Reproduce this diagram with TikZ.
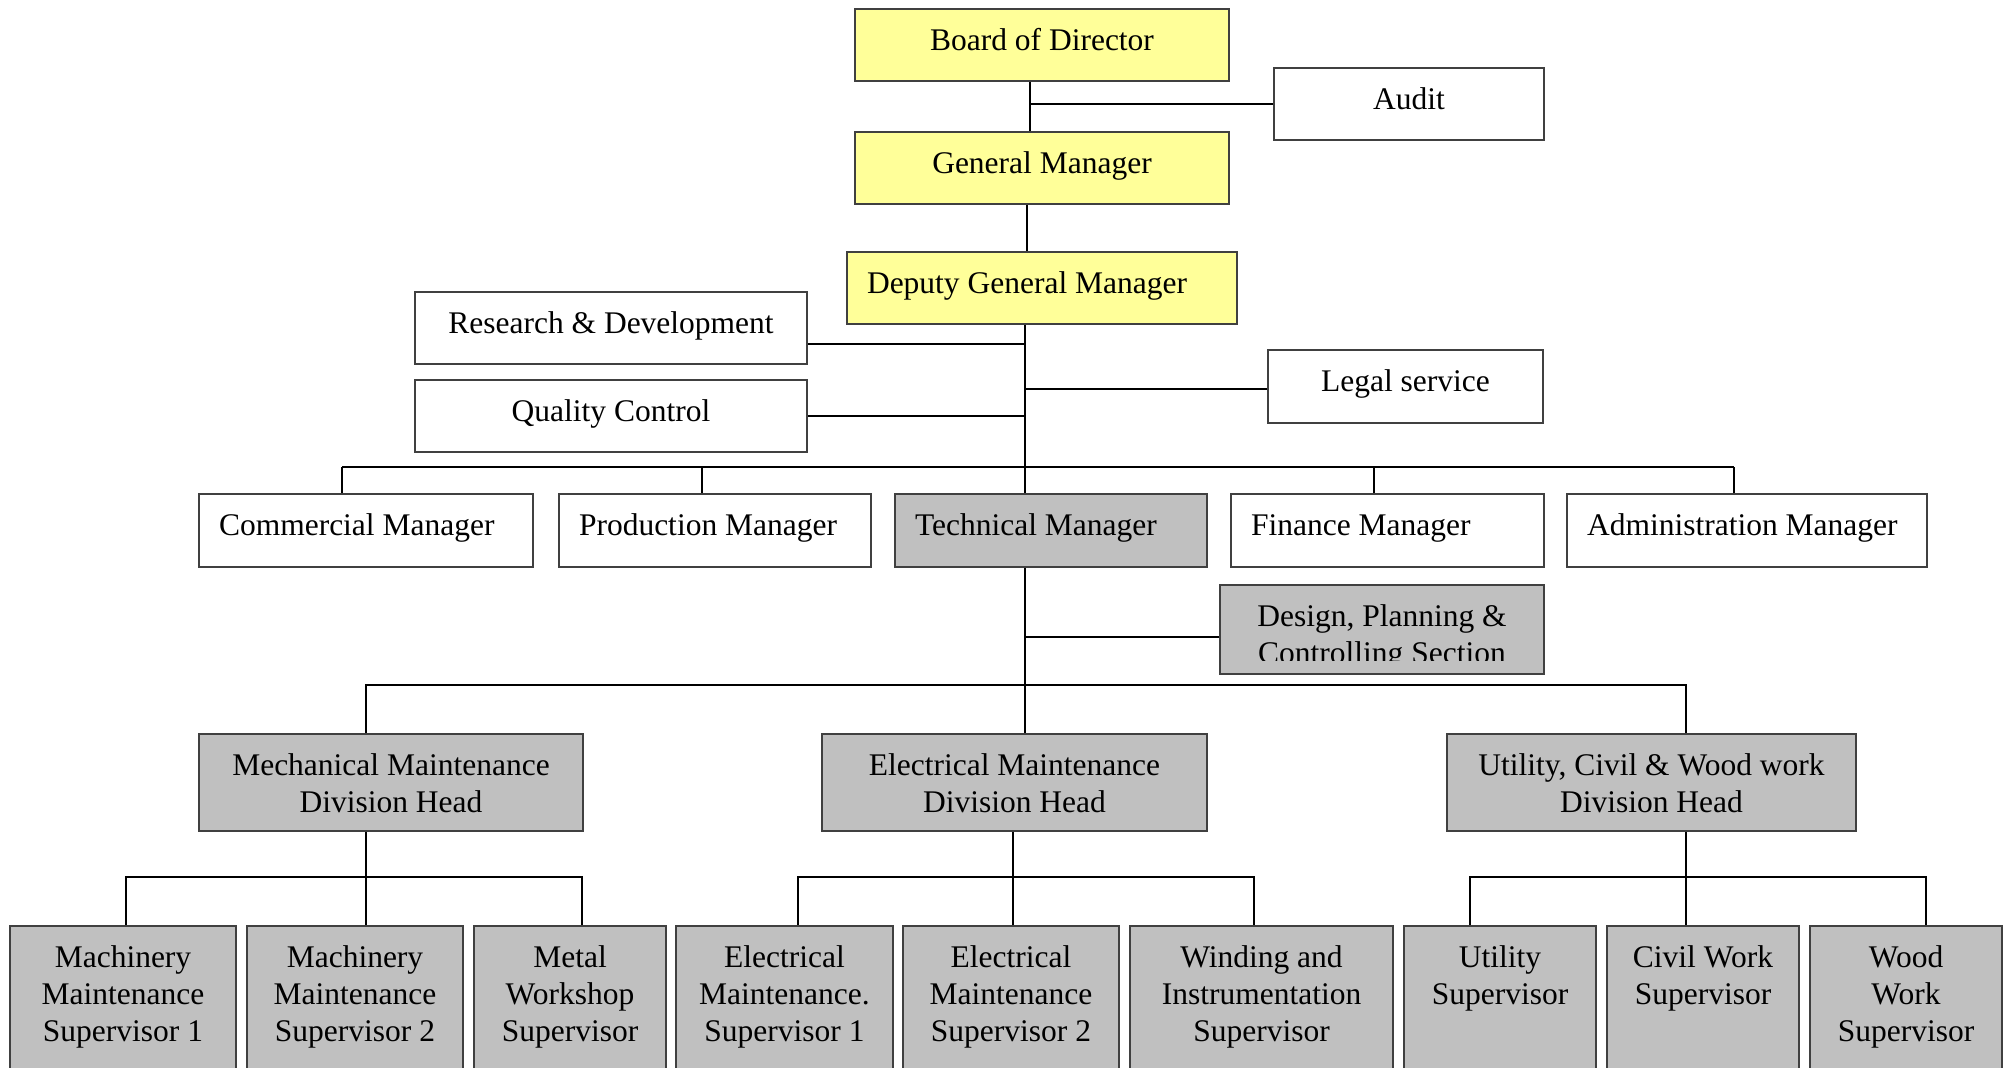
\documentclass[tikz,border=0pt]{standalone}
\usepackage{fontspec}
\setmainfont{Liberation Serif}
\usetikzlibrary{calc}

\definecolor{boardyellow}{HTML}{FFFF99}
\definecolor{techgray}{HTML}{C0C0C0}
\definecolor{boxline}{HTML}{404040}

\newcommand\orgfont{\fontsize{15.75pt}{18.5pt}\selectfont}
% box content: width and height in drawing units (px), first baseline 21pt below the top
\newcommand\cellc[3]{\parbox[t][\dimexpr#2pt/2\relax][t]{\dimexpr#1pt/2\relax}{\centering\rule{0pt}{21pt}#3}}
\newcommand\celll[3]{\parbox[t][\dimexpr#2pt/2\relax][t]{\dimexpr#1pt/2\relax}{\raggedright\rule{0pt}{21pt}\hspace*{10pt}\mbox{#3}}}

\tikzset{
  orgbox/.style={draw=boxline, line width=1pt, inner sep=0pt, anchor=north west, font=\orgfont},
  ybox/.style={orgbox, fill=boardyellow},
  wbox/.style={orgbox, fill=white},
  gbox/.style={orgbox, fill=techgray},
  link/.style={line width=1pt, black},
  buslink/.style={line width=1.3pt, black},
}

\begin{document}
\begin{tikzpicture}[x=0.5pt, y=-0.5pt]
\useasboundingbox (0,0) rectangle (2004,1068);
\clip (0,0) rectangle (2004,1068);
\fill[white] (0,0) rectangle (2004,1068);

% ---- top management
\node[ybox] (bod)   at (854,8)    {\cellc{374}{72}{Board of Director}};
\node[wbox] (audit) at (1273,67)  {\cellc{270}{72}{Audit}};
\node[ybox] (gm)    at (854,131)  {\cellc{374}{72}{General Manager}};
\node[ybox] (dgm)   at (846,251)  {\celll{390}{72}{Deputy General Manager}};

% ---- staff functions
\node[wbox] (rd)    at (414,291)  {\cellc{392}{72}{Research \& Development}};
\node[wbox] (qc)    at (414,379)  {\cellc{392}{72}{Quality Control}};
\node[wbox] (legal) at (1267,349) {\cellc{275}{73}{Legal service}};

% ---- managers
\node[wbox] (com)  at (198,493)  {\celll{334}{73}{Commercial Manager}};
\node[wbox] (prod) at (558,493)  {\celll{312}{73}{Production Manager}};
\node[gbox] (tm)   at (894,493)  {\celll{312}{73}{Technical Manager}};
\node[wbox] (fin)  at (1230,493) {\celll{313}{73}{Finance Manager}};
\node[wbox] (adm)  at (1566,493) {\celll{360}{73}{Administration Manager}};

% ---- design section (text cut by the box)
\node[gbox] (design) at (1219,584) {\cellc{324}{89}{}};
\begin{scope}
  \clip (1219,584) rectangle (1543,661);
  \node[orgbox, draw=none] (design-text) at (1219,584)
    {\cellc{324}{89}{Design, Planning \&\\Controlling Section}};
\end{scope}

% ---- division heads
\node[gbox] (mech) at (198,733)  {\cellc{384}{97}{Mechanical Maintenance\\Division Head}};
\node[gbox] (elec) at (821,733)  {\cellc{385}{97}{Electrical Maintenance\\Division Head}};
\node[gbox] (util) at (1446,733) {\cellc{409}{97}{Utility, Civil \& Wood work\\Division Head}};

% ---- supervisors
\node[gbox] (s1) at (9,925)    {\cellc{226}{160}{Machinery\\Maintenance\\Supervisor 1}};
\node[gbox] (s2) at (246,925)  {\cellc{216}{160}{Machinery\\Maintenance\\Supervisor 2}};
\node[gbox] (s3) at (473,925)  {\cellc{192}{160}{Metal\\Workshop\\Supervisor}};
\node[gbox] (s4) at (675,925)  {\cellc{217}{160}{Electrical\\Maintenance.\\Supervisor 1}};
\node[gbox] (s5) at (902,925)  {\cellc{216}{160}{Electrical\\Maintenance\\Supervisor 2}};
\node[gbox] (s6) at (1129,925) {\cellc{263}{160}{Winding and\\Instrumentation\\Supervisor}};
\node[gbox] (s7) at (1403,925) {\cellc{192}{160}{Utility\\Supervisor}};
\node[gbox] (s8) at (1606,925) {\cellc{192}{160}{Civil Work\\Supervisor}};
\node[gbox] (s9) at (1809,925) {\cellc{192}{160}{Wood\\Work\\Supervisor}};

% ---- routing points
\coordinate (x-bod) at (1030,0);
\coordinate (x-gm)  at (1027,0);
\coordinate (x-tr)  at (1025,0);
\coordinate (y-rd)  at (0,344);
\coordinate (y-qc)  at (0,416);
\coordinate (y-lg)  at (0,389);
\coordinate (y-ds)  at (0,637);
\coordinate (b-com)  at (342,467);
\coordinate (b-prod) at (702,467);
\coordinate (b-fin)  at (1374,467);
\coordinate (b-adm)  at (1734,467);
\coordinate (d-mech) at (366,685);
\coordinate (d-util) at (1686,685);
\coordinate (m-l) at (126,877);
\coordinate (m-r) at (582,877);
\coordinate (e-c) at (1013,877);
\coordinate (e-l) at (798,877);
\coordinate (e-r) at (1254,877);
\coordinate (u-l) at (1470,877);
\coordinate (u-r) at (1926,877);

% ---- connectors, top
\draw[link] (bod.south -| x-bod) -- (gm.north -| x-bod);
\draw[link] (audit.west) -- (audit.west -| x-bod);
\draw[link] (gm.south -| x-gm) -- (dgm.north -| x-gm);
\draw[link] (dgm.south -| x-tr) -- (tm.north -| x-tr);
\draw[link] (rd.east |- y-rd) -- (x-tr |- y-rd);
\draw[link] (qc.east |- y-qc) -- (x-tr |- y-qc);
\draw[link] (legal.west |- y-lg) -- (x-tr |- y-lg);

% ---- manager bus
\draw[buslink] (b-com) -- (b-adm);
\draw[link] (com.north -| b-com) -- (b-com);
\draw[link] (prod.north -| b-prod) -- (b-prod);
\draw[link] (fin.north -| b-fin) -- (b-fin);
\draw[link] (adm.north -| b-adm) -- (b-adm);

% ---- technical branch
\draw[link] (tm.south -| x-tr) -- (elec.north -| x-tr);
\draw[link] (design.west |- y-ds) -- (x-tr |- y-ds);
\draw[link] (mech.north -| d-mech) -- (d-mech) -- (d-util) -- (util.north -| d-util);

% ---- supervisor buses
\draw[link] (mech.south -| d-mech) -- (s2.north -| d-mech);
\draw[link] (s1.north -| m-l) -- (m-l) -- (m-r) -- (s3.north -| m-r);
\draw[link] (elec.south -| e-c) -- (s5.north -| e-c);
\draw[link] (s4.north -| e-l) -- (e-l) -- (e-r) -- (s6.north -| e-r);
\draw[link] (util.south -| d-util) -- (s8.north -| d-util);
\draw[link] (s7.north -| u-l) -- (u-l) -- (u-r) -- (s9.north -| u-r);
\end{tikzpicture}
\end{document}
